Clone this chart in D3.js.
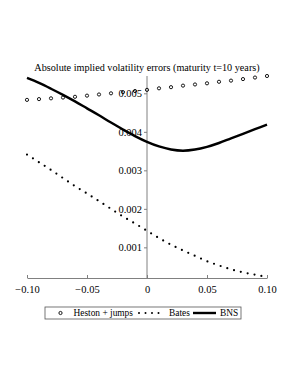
<!DOCTYPE html>
<html lang="en">
  <head>
    <meta charset="UTF-8" />
    <title>Absolute implied volatility errors</title>
    <script src="https://d3js.org/d3.v7.min.js"></script>
    <style>
      body {
        margin: 0;
        background: #ffffff;
      }

      svg text {
        font-family: "Liberation Serif", "Times New Roman", serif;
        fill: #000;
      }

      .axis path,
      .axis line {
        stroke: #808080;
      }
    </style>
  </head>
  <body>
    <svg id="chart" width="298" height="385"></svg>

    <script>
      // strike grid (log-moneyness)
      const moneyness = [
        -0.1, -0.09, -0.08, -0.07, -0.06, -0.05, -0.04, -0.03, -0.02, -0.01, 0,
        0.01, 0.02, 0.03, 0.04, 0.05, 0.06, 0.07, 0.08, 0.09, 0.1,
      ];

      const hestonJumps = [
        0.00483, 0.00485, 0.00487, 0.00489, 0.00491, 0.00494, 0.00497, 0.005,
        0.00503, 0.00506, 0.00509, 0.00513, 0.00516, 0.0052, 0.00523, 0.00526,
        0.0053, 0.00533, 0.00537, 0.00541, 0.00545,
      ];

      const bates = [
        0.00341, 0.00321, 0.00301, 0.0028, 0.00259, 0.0024, 0.0022, 0.002,
        0.0018, 0.00162, 0.00143, 0.00124, 0.00107, 0.00092, 0.00078, 0.00064,
        0.00053, 0.00043, 0.00035, 0.00029, 0.00023,
      ];

      const bns = [
        0.0054, 0.00527, 0.00512, 0.00496, 0.00479, 0.00461, 0.00443, 0.00424,
        0.00406, 0.00389, 0.00374, 0.00362, 0.00354, 0.00351, 0.00354, 0.00361,
        0.00371, 0.00383, 0.00395, 0.00407, 0.00419,
      ];

      const xTicks = [-0.1, -0.05, 0, 0.05, 0.1];
      const xTickLabels = ["\u22120.10", "\u22120.05", "0", "0.05", "0.10"];
      const yTicks = [0.001, 0.002, 0.003, 0.004, 0.005];
      const yTickLabels = ["0.001", "0.002", "0.003", "0.004", "0.005"];

      const title = "Absolute implied volatility errors (maturity t=10 years)";
      const legendLabels = ["Heston + jumps", "Bates", "BNS"];

      const svg = d3.select("#chart");

      const x = d3.scaleLinear().domain([-0.1, 0.1]).range([27, 267]);

      const allValues = hestonJumps.concat(bates, bns);
      const y = d3
        .scaleLinear()
        .domain([d3.min(allValues), d3.max(allValues)])
        .range([277, 76]);

      // title
      svg
        .append("text")
        .attr("x", 147)
        .attr("y", 71)
        .attr("text-anchor", "middle")
        .style("font-size", "10.2px")
        .text(title);

      // x axis at the bottom of the value range
      const xAxis = svg
        .append("g")
        .attr("class", "axis")
        .attr("transform", `translate(0,${y.range()[0] + 1})`)
        .call(
          d3
            .axisBottom(x)
            .tickValues(xTicks)
            .tickFormat((d, i) => xTickLabels[i])
            .tickSize(-3)
            .tickSizeOuter(0)
            .tickPadding(6)
        );
      xAxis.selectAll("text").style("font-size", "10.5px").attr("dy", "0.9em");

      // y axis through x = 0
      const yAxis = svg
        .append("g")
        .attr("class", "axis")
        .attr("transform", `translate(${x(0)},0)`)
        .call(
          d3
            .axisLeft(y)
            .tickValues(yTicks)
            .tickFormat((d, i) => yTickLabels[i])
            .tickSize(3)
            .tickSizeOuter(0)
            .tickPadding(2)
        );
      yAxis.select(".domain").attr("d", `M0,${y.range()[1]}V${y.range()[0] + 1}`);
      yAxis.selectAll("text").style("font-size", "10.5px");

      const line = d3
        .line()
        .x((d, i) => x(moneyness[i]))
        .y((d) => y(d))
        .curve(d3.curveCatmullRom);

      // Bates: dotted curve
      svg
        .append("path")
        .datum(bates)
        .attr("d", line)
        .attr("fill", "none")
        .attr("stroke", "#000")
        .attr("stroke-width", 2.2)
        .attr("stroke-linecap", "round")
        .attr("stroke-dasharray", "0 7");

      // BNS: solid curve
      svg
        .append("path")
        .datum(bns)
        .attr("d", line)
        .attr("fill", "none")
        .attr("stroke", "#000")
        .attr("stroke-width", 2.4);

      // Heston + jumps: open circles
      svg
        .selectAll(".heston")
        .data(hestonJumps)
        .enter()
        .append("circle")
        .attr("class", "heston")
        .attr("cx", (d, i) => x(moneyness[i]))
        .attr("cy", (d) => y(d))
        .attr("r", 1.6)
        .attr("fill", "none")
        .attr("stroke", "#000")
        .attr("stroke-width", 0.9);

      // legend
      const legend = svg.append("g").attr("transform", "translate(45,307)");
      legend
        .append("rect")
        .attr("width", 196)
        .attr("height", 12)
        .attr("fill", "none")
        .attr("stroke", "#555")
        .attr("stroke-width", 0.8);

      legend
        .append("circle")
        .attr("cx", 15.5)
        .attr("cy", 6)
        .attr("r", 1.6)
        .attr("fill", "none")
        .attr("stroke", "#000")
        .attr("stroke-width", 0.9);
      legend
        .append("text")
        .attr("x", 28.5)
        .attr("y", 9.3)
        .style("font-size", "9.4px")
        .text(legendLabels[0]);

      legend
        .append("line")
        .attr("x1", 94)
        .attr("x2", 120)
        .attr("y1", 6)
        .attr("y2", 6)
        .attr("stroke", "#000")
        .attr("stroke-width", 2)
        .attr("stroke-linecap", "round")
        .attr("stroke-dasharray", "0 6.5");
      legend
        .append("text")
        .attr("x", 124)
        .attr("y", 9.3)
        .style("font-size", "9.4px")
        .text(legendLabels[1]);

      legend
        .append("line")
        .attr("x1", 148)
        .attr("x2", 171)
        .attr("y1", 6)
        .attr("y2", 6)
        .attr("stroke", "#000")
        .attr("stroke-width", 2.4);
      legend
        .append("text")
        .attr("x", 175)
        .attr("y", 9.3)
        .style("font-size", "9.4px")
        .text(legendLabels[2]);
    </script>
  </body>
</html>
